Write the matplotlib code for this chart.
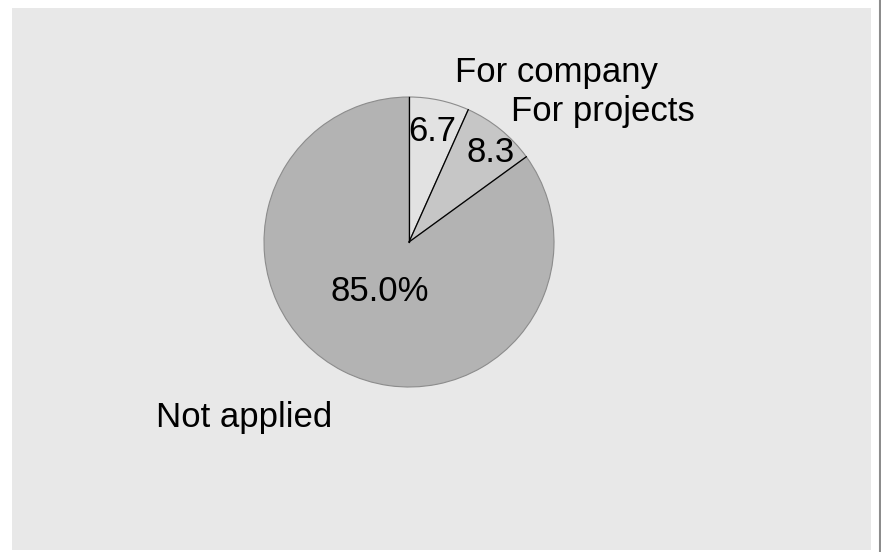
import matplotlib
matplotlib.use('Agg')
import matplotlib.pyplot as plt
import numpy as np

labels = ['For company', 'For projects', 'Not applied']
values = [6.7, 8.3, 85.0]
value_text = ['6.7', '8.3', '85.0%']
colors = ['#e2e2e2', '#c6c6c6', '#b3b3b3']

plt.rcParams['font.family'] = ['Liberation Sans', 'DejaVu Sans']

fig = plt.figure(figsize=(8.81, 5.52), dpi=100)
fig.patch.set_facecolor('white')

# plot area in pixels: left 12, right 871, top 8, bottom 550
W, H = 881, 552
ax = fig.add_axes([12 / W, 2 / H, 859 / W, 542 / H])

wedges, _ = ax.pie(values, colors=colors, startangle=90, counterclock=False,
                   radius=1, center=(0, 0),
                   wedgeprops=dict(edgecolor='#8c8c8c', linewidth=0.8))

# black radial boundaries between slices
angles = 90 - np.concatenate([[0], np.cumsum(values)[:-1]]) / 100 * 360
for a in angles:
    r = np.deg2rad(a)
    ax.plot([0, np.cos(r)], [0, np.sin(r)], color='black', linewidth=0.9)

# label positions (in radius units)
label_pos = [(1.02, 1.17), (1.34, 0.90), (-1.14, -1.21)]
value_pos = [(0.16, 0.76), (0.56, 0.62), (-0.20, -0.34)]
for lab, (x, y) in zip(labels, label_pos):
    ax.text(x, y, lab, fontsize=25, ha='center', va='center')
for txt, (x, y) in zip(value_text, value_pos):
    ax.text(x, y, txt, fontsize=25, ha='center', va='center')

ax.set_frame_on(True)
ax.set_facecolor('#e8e8e8')
ax.set_aspect('auto')
ax.set_xlim((12 - 409) / 145, (871 - 409) / 145)
ax.set_ylim((242 - 550) / 145, (242 - 8) / 145)
ax.set_xticks([])
ax.set_yticks([])
for s in ax.spines.values():
    s.set_visible(False)

# thin border at the right edge of the figure
fig.add_artist(plt.Line2D([879.5 / W, 879.5 / W], [0, 1], color='#8c8c8c',
                          linewidth=1.5, transform=fig.transFigure))

fig.savefig('out.png', dpi=100)
